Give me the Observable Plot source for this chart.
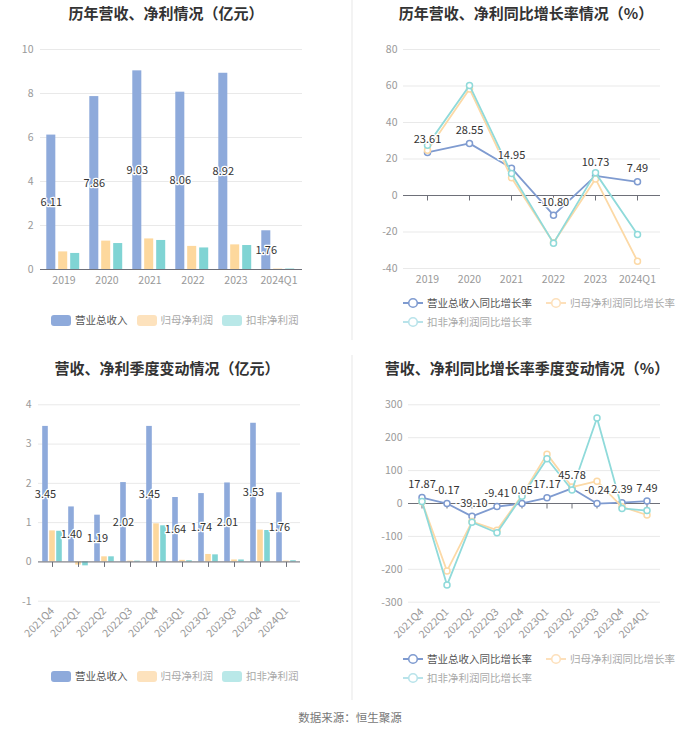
<!DOCTYPE html>
<html>
<head>
<meta charset="utf-8">
<script src="https://cdn.jsdelivr.net/npm/d3@7"></script>
<script src="https://cdn.jsdelivr.net/npm/@observablehq/plot@0.6"></script>
<style>
  body { margin: 0; background: #fff; font-family: "Noto Sans CJK SC", "Noto Sans", sans-serif; }
  #root { position: relative; width: 700px; height: 734px; background: #fff; overflow: hidden; }
  .title { position: absolute; transform: translateX(-50%); white-space: nowrap; font-size: 15px; font-weight: bold; color: #333; line-height: 1; }
  .panel { position: absolute; }
  .legend { position: absolute; display: flex; align-items: center; font-size: 10.5px; white-space: nowrap; line-height: 1; }
  .legend .item { display: flex; align-items: center; margin-right: 9px; }
  .legend .sw { width: 20px; height: 11px; border-radius: 3px; margin-right: 4px; }
  .legend svg { margin-right: 4px; }
  .divider { position: absolute; width: 2px; background: #f3f3f3; }
  .footer { position: absolute; left: 350px; top: 709px; transform: translateX(-50%); font-size: 11.5px; color: #777; white-space: nowrap; }
</style>
</head>
<body>
<div id="root"></div>
<script>
// ---------- data ----------
const years = ["2019", "2020", "2021", "2022", "2023", "2024Q1"];
const revenue = [6.11, 7.86, 9.03, 8.06, 8.92, 1.76];
const netProfit = [0.80, 1.29, 1.39, 1.05, 1.12, 0.02];
const deductNet = [0.73, 1.18, 1.32, 0.98, 1.09, 0.02];

const revGrowth = [23.61, 28.55, 14.95, -10.80, 10.73, 7.49];
const netGrowth = [24.8, 58.4, 9.7, -25.9, 9.1, -36.0];
const dedGrowth = [27.6, 60.3, 12.1, -26.1, 12.4, -21.4];

const quarters = ["2021Q4", "2022Q1", "2022Q2", "2022Q3", "2022Q4", "2023Q1", "2023Q2", "2023Q3", "2023Q4", "2024Q1"];
const qRevenue = [3.45, 1.40, 1.19, 2.02, 3.45, 1.64, 1.74, 2.01, 3.53, 1.76];
const qNet = [0.79, -0.08, 0.13, 0.02, 0.97, 0.04, 0.19, 0.05, 0.81, 0.02];
const qDed = [0.78, -0.10, 0.13, 0.02, 0.92, 0.03, 0.18, 0.05, 0.80, 0.03];

const qRevGrowth = [17.87, -0.17, -39.10, -9.41, 0.05, 17.17, 45.78, -0.24, 2.39, 7.49];
const qNetGrowth = [5, -205, -55, -81, 25, 150, 50, 68, -10, -35];
const qDedGrowth = [6, -248, -57, -89, 22, 136, 41, 260, -15, -21.4];

const barLegend = ["营业总收入", "归母净利润", "扣非净利润"];
const lineLegend = ["营业总收入同比增长率", "归母净利润同比增长率", "扣非净利润同比增长率"];

// ---------- styles ----------
const C = { rev: "#8eaadb", net: "#fdd89d", ded: "#80d4d4" };
const L = { rev: "#7f9bd0", net: "#fcd9a6", ded: "#8fdada" };
const FONT = '"Noto Sans CJK SC", "Noto Sans", sans-serif';
const AXIS = "#6e7079";
const GRID = "#e9e9e9";

const root = document.getElementById("root");
function place(el, left, top) { el.style.position = "absolute"; el.style.left = left + "px"; el.style.top = top + "px"; root.appendChild(el); }
function addTitle(text, cx, top) { const d = document.createElement("div"); d.className = "title"; d.textContent = text; d.style.left = cx + "px"; d.style.top = top + "px"; root.appendChild(d); }

const tickSymbol = { draw(ctx) { ctx.moveTo(0, 0); ctx.lineTo(0, 5); } };
const fmt = (v) => v.toFixed(2);
const plain = (v) => String(v);

function barChart({cats, rev, net, ded, yDomain, yTicks, width, height, ml, mr, mt, mb, barW, offs, rotate, zeroTicks}) {
  const rows = cats.map((c, i) => ({c, rev: rev[i], net: net[i], ded: ded[i]}));
  const bw = (width - ml - mr) / cats.length;
  const inset = (bw - barW) / 2;
  return Plot.plot({
    width, height, marginLeft: ml, marginRight: mr, marginTop: mt, marginBottom: mb,
    style: {fontFamily: FONT, fontSize: "10.5px", color: "#999", background: "transparent"},
    x: {type: "band", domain: cats, padding: 0, label: null, tickSize: 0, tickPadding: rotate ? 8 : 7, tickRotate: rotate || 0},
    y: {domain: yDomain, ticks: yTicks, tickFormat: plain, label: null, tickSize: 0, tickPadding: 7},
    marks: [
      Plot.gridY(yTicks, {stroke: GRID, strokeOpacity: 1}),
      Plot.barY(rows, {x: "c", y: "rev", fill: C.rev, insetLeft: inset, insetRight: inset, dx: offs[0]}),
      Plot.barY(rows, {x: "c", y: "net", fill: C.net, insetLeft: inset, insetRight: inset, dx: offs[1]}),
      Plot.barY(rows, {x: "c", y: "ded", fill: C.ded, insetLeft: inset, insetRight: inset, dx: offs[2]}),
      Plot.ruleY([0], {stroke: AXIS, strokeWidth: 1}),
      zeroTicks ? Plot.dot(rows, {x: "c", y: () => 0, symbol: tickSymbol, stroke: AXIS, strokeWidth: 1, fill: "none"}) : null,
      Plot.text(rows, {x: "c", y: (d) => d.rev / 2, text: (d) => fmt(d.rev), dx: offs[0], fill: "#333", stroke: "#fff", strokeWidth: 2.5, fontSize: 11})
    ]
  });
}

function lineChart({cats, a, b, c, yDomain, yTicks, width, height, ml, mr, mt, mb, rotate}) {
  const rows = cats.map((k, i) => ({k, a: a[i], b: b[i], c: c[i]}));
  const marks = [
    Plot.gridY(yTicks, {stroke: GRID, strokeOpacity: 1}),
    Plot.ruleY([0], {stroke: AXIS, strokeWidth: 1}),
    Plot.dot(rows, {x: "k", y: () => 0, symbol: tickSymbol, stroke: AXIS, strokeWidth: 1, fill: "none"})
  ];
  for (const [key, col] of [["a", L.rev], ["b", L.net], ["c", L.ded]]) {
    marks.push(Plot.line(rows, {x: "k", y: key, stroke: col, strokeWidth: 1.8}));
    marks.push(Plot.dot(rows, {x: "k", y: key, r: 3, fill: "#fff", stroke: col, strokeWidth: 1.5}));
  }
  marks.push(Plot.text(rows, {x: "k", y: "a", text: (d) => fmt(d.a), dy: -13, fill: "#333", stroke: "#fff", strokeWidth: 2.5, fontSize: 11}));
  return Plot.plot({
    width, height, marginLeft: ml, marginRight: mr, marginTop: mt, marginBottom: mb,
    style: {fontFamily: FONT, fontSize: "10.5px", color: "#999", background: "transparent"},
    x: {type: "band", domain: cats, padding: 0, label: null, tickSize: 0, tickPadding: rotate ? 8 : 7, tickRotate: rotate || 0},
    y: {domain: yDomain, ticks: yTicks, tickFormat: plain, label: null, tickSize: 0, tickPadding: 6},
    marks
  });
}

function barLegendEl(left, top) {
  const d = document.createElement("div"); d.className = "legend";
  const sw = ["#8eaadb", "#fde2bd", "#b9e8e8"];
  const tc = ["#555", "#a9a9a9", "#a9a9a9"];
  barLegend.forEach((t, i) => {
    const it = document.createElement("div"); it.className = "item";
    it.innerHTML = `<div class="sw" style="background:${sw[i]}"></div><span style="color:${tc[i]}">${t}</span>`;
    d.appendChild(it);
  });
  place(d, left, top);
}

function lineIcon(col) {
  return `<svg width="20" height="12"><line x1="0" y1="6" x2="20" y2="6" stroke="${col}" stroke-width="2"/><circle cx="10" cy="6" r="4.3" fill="#fff" stroke="${col}" stroke-width="1.6"/></svg>`;
}
function lineLegendEl(left, top1, top2) {
  const cols = ["#7f9bd0", "#fde0bb", "#b8e3ea"];
  const tc = ["#555", "#a9a9a9", "#a9a9a9"];
  const row1 = document.createElement("div"); row1.className = "legend";
  [0, 1].forEach((i) => {
    const it = document.createElement("div"); it.className = "item"; it.style.marginRight = "14px";
    it.innerHTML = lineIcon(cols[i]) + `<span style="color:${tc[i]}">${lineLegend[i]}</span>`;
    row1.appendChild(it);
  });
  place(row1, left, top1);
  const row2 = document.createElement("div"); row2.className = "legend";
  const it = document.createElement("div"); it.className = "item";
  it.innerHTML = lineIcon(cols[2]) + `<span style="color:${tc[2]}">${lineLegend[2]}</span>`;
  row2.appendChild(it);
  place(row2, left, top2);
}

// ---------- panels ----------
addTitle("历年营收、净利情况（亿元）", 166, 5);
place(barChart({cats: years, rev: revenue, net: netProfit, ded: deductNet, yDomain: [0, 10], yTicks: [0, 2, 4, 6, 8, 10],
  width: 350, height: 270, ml: 40, mr: 48, mt: 19, mb: 31, barW: 9.7, offs: [-12.7, -0.8, 11.2], zeroTicks: false}), 0, 30);
barLegendEl(51, 315);

addTitle("历年营收、净利同比增长率情况（%）", 526, 5);
place(lineChart({cats: years, a: revGrowth, b: netGrowth, c: dedGrowth, yDomain: [-40, 80], yTicks: [-40, -20, 0, 20, 40, 60, 80],
  width: 350, height: 270, ml: 53, mr: 40, mt: 19, mb: 32}), 350, 30);
lineLegendEl(403, 297, 316);

addTitle("营收、净利季度变动情况（亿元）", 167, 360);
place(barChart({cats: quarters, rev: qRevenue, net: qNet, ded: qDed, yDomain: [-1, 4], yTicks: [-1, 0, 1, 2, 3, 4],
  width: 350, height: 260, ml: 38, mr: 50, mt: 19.3, mb: 44.3, barW: 5.8, offs: [-7, 0, 7], rotate: -45, zeroTicks: true}), 0, 385);
barLegendEl(51, 671);

addTitle("营收、净利同比增长率季度变动情况（%）", 527, 360);
place(lineChart({cats: quarters, a: qRevGrowth, b: qNetGrowth, c: qDedGrowth, yDomain: [-300, 300], yTicks: [-300, -200, -100, 0, 100, 200, 300],
  width: 350, height: 260, ml: 58, mr: 40, mt: 19.3, mb: 43.3, rotate: -45}), 350, 385);
lineLegendEl(403, 653, 672);

// divider + footer
for (const [t, h] of [[0, 340], [355, 345]]) { const d = document.createElement("div"); d.className = "divider"; d.style.left = "351px"; d.style.top = t + "px"; d.style.height = h + "px"; root.appendChild(d); }
const f = document.createElement("div"); f.className = "footer"; f.textContent = "数据来源：恒生聚源"; root.appendChild(f);
</script>
</body>
</html>
